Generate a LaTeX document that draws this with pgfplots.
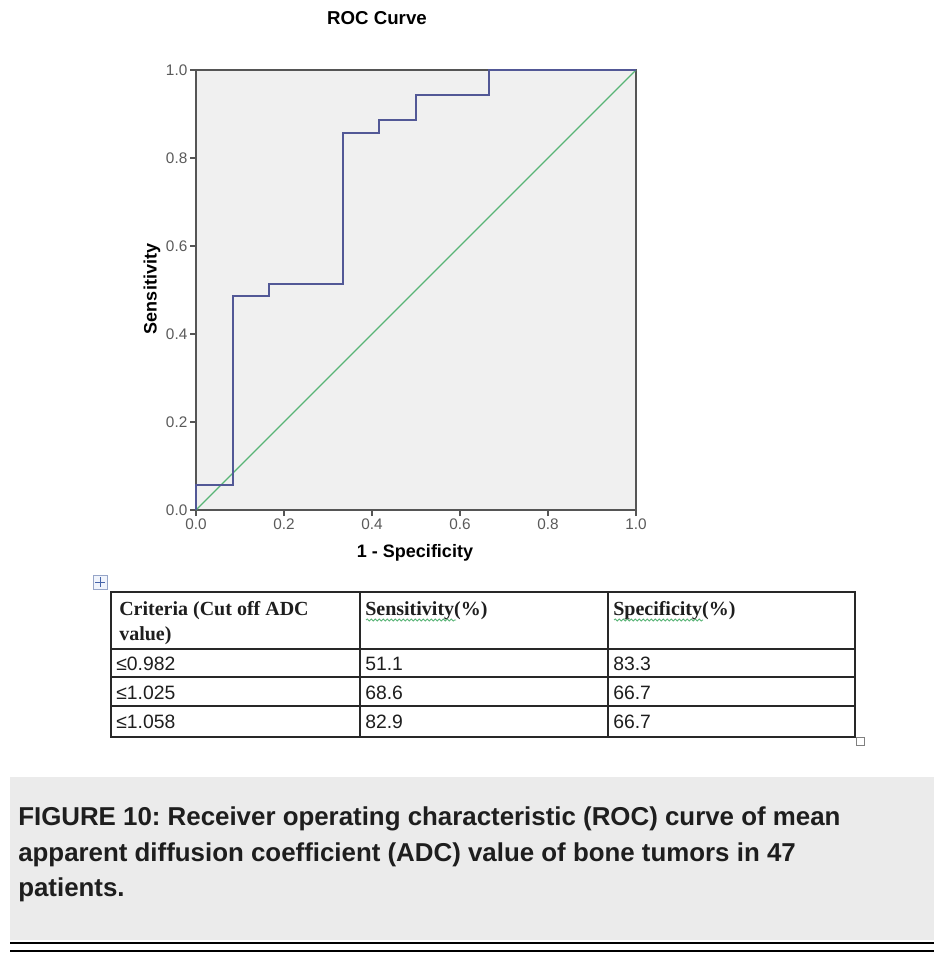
\documentclass[border=0pt]{standalone}
\usepackage{fontspec}
\setmainfont{Liberation Sans}
\newfontfamily\timesf{Liberation Serif}
\usepackage{pgfplots}
\pgfplotsset{compat=1.18}
\usetikzlibrary{decorations.pathmorphing}
\definecolor{rocblue}{RGB}{82,88,150}
\definecolor{refgreen}{RGB}{88,180,118}
\definecolor{plotbg}{RGB}{240,240,240}
\definecolor{framegray}{RGB}{85,85,85}
\definecolor{capgray}{RGB}{235,235,235}
\definecolor{ticktext}{RGB}{90,90,90}
\definecolor{tabline}{RGB}{40,40,40}
\definecolor{tabtext}{RGB}{30,30,30}
\definecolor{handleedge}{RGB}{150,165,200}
\definecolor{handlefill}{RGB}{240,244,252}
\definecolor{handlecross}{RGB}{70,100,170}
\frenchspacing

\begin{document}
\begin{tikzpicture}[x=0.75pt, y=-0.75pt]
% page in px, y downwards
\path[use as bounding box, fill=white] (0,0) rectangle (934,955);

\node[font=\bfseries\fontsize{14}{16}\selectfont] at (377,18) {ROC Curve};

\begin{axis}[
    at={(147pt,-382.5pt)}, anchor=south west,
    width=330pt, height=330pt, scale only axis,
    xmin=0, xmax=1, ymin=0, ymax=1,
    xtick={0,0.2,0.4,0.6,0.8,1.0},
    ytick={0,0.2,0.4,0.6,0.8,1.0},
    xtick pos=bottom, ytick pos=left,
    /pgf/number format/fixed, /pgf/number format/fixed zerofill,
    /pgf/number format/precision=1,
    /pgf/number format/assume math mode=true,
    tick align=outside, major tick length=4.5pt,
    tick style={framegray, line width=0.9pt},
    axis line style={framegray, line width=1.3pt},
    axis background/.style={fill=plotbg},
    ticklabel style={font=\fontsize{11.5}{13}\selectfont, text=ticktext},
    xticklabel style={yshift=1.5pt},
    yticklabel style={xshift=1.5pt},
    clip=false,
]
% diagonal reference line
\addplot[refgreen, line width=1pt] coordinates {(0,0)(1,1)};
% ROC curve (12 negatives, 35 positives)
\addplot[rocblue, line width=1.3pt] coordinates {
    (0,0)(0,0.0571)(0.0833,0.0571)(0.0833,0.4857)(0.1667,0.4857)
    (0.1667,0.5143)(0.3333,0.5143)(0.3333,0.8571)(0.4167,0.8571)
    (0.4167,0.8857)(0.5,0.8857)(0.5,0.9429)(0.6667,0.9429)
    (0.6667,1)(1,1)
};
\end{axis}

\node[font=\bfseries\fontsize{13.5}{15}\selectfont, rotate=90] at (152,289) {Sensitivity};
\node[font=\bfseries\fontsize{13.5}{15}\selectfont] at (415,553) {1 - Specificity};

% move handle
\draw[draw=handleedge, fill=handlefill, line width=0.6pt] (93,575) rectangle (107,589);
\draw[handlecross, line width=0.7pt] (95,582) -- (105,582) (100,577) -- (100,587);

% table
\begin{scope}[line width=1.4pt, draw=tabline]
\draw (111,592) rectangle (855,737);
\draw (111,649) -- (855,649);
\draw (111,677) -- (855,677);
\draw (111,706) -- (855,706);
\draw (360,592) -- (360,737);
\draw (608,592) -- (608,737);
\end{scope}
\draw[gray, line width=0.6pt] (856,737) rectangle (864,745);

\begin{scope}[font=\timesf\bfseries\fontsize{15}{18}\selectfont, text=tabtext]
\node[anchor=base west, inner sep=0] at (119,615) {Criteria (Cut off ADC};
\node[anchor=base west, inner sep=0] at (119,640) {value)};
\node[anchor=base west, inner sep=0] at (365,615) {Sensitivity(\%)};
\node[anchor=base west, inner sep=0] at (613,615) {Specificity(\%)};
\end{scope}
\draw[refgreen, line width=0.6pt, decorate, decoration={snake, amplitude=0.8pt, segment length=3pt}] (366,620) -- (456,620);
\draw[refgreen, line width=0.6pt, decorate, decoration={snake, amplitude=0.8pt, segment length=3pt}] (614,620) -- (703,620);

\begin{scope}[font=\fontsize{14.5}{16}\selectfont, text=tabtext]
\node[anchor=base west, inner sep=0] at (116,670) {≤0.982};
\node[anchor=base west, inner sep=0] at (365,670) {51.1};
\node[anchor=base west, inner sep=0] at (613,670) {83.3};
\node[anchor=base west, inner sep=0] at (116,699) {≤1.025};
\node[anchor=base west, inner sep=0] at (365,699) {68.6};
\node[anchor=base west, inner sep=0] at (613,699) {66.7};
\node[anchor=base west, inner sep=0] at (116,728) {≤1.058};
\node[anchor=base west, inner sep=0] at (365,728) {82.9};
\node[anchor=base west, inner sep=0] at (613,728) {66.7};
\end{scope}

% caption box
\fill[capgray] (10,777) rectangle (934,940);
\draw[black, line width=2.2pt] (10,943) -- (934,943);
\draw[black, line width=0.8pt] (10,951) -- (934,951);
\begin{scope}[font=\bfseries\fontsize{19.4}{22}\selectfont, text=tabtext]
\node[anchor=base west, inner sep=0] at (18,825) {FIGURE 10: Receiver operating characteristic (ROC) curve of mean};
\node[anchor=base west, inner sep=0] at (18,861) {apparent diffusion coefficient (ADC) value of bone tumors in 47};
\node[anchor=base west, inner sep=0] at (18,896) {patients.};
\end{scope}
\end{tikzpicture}
\end{document}
